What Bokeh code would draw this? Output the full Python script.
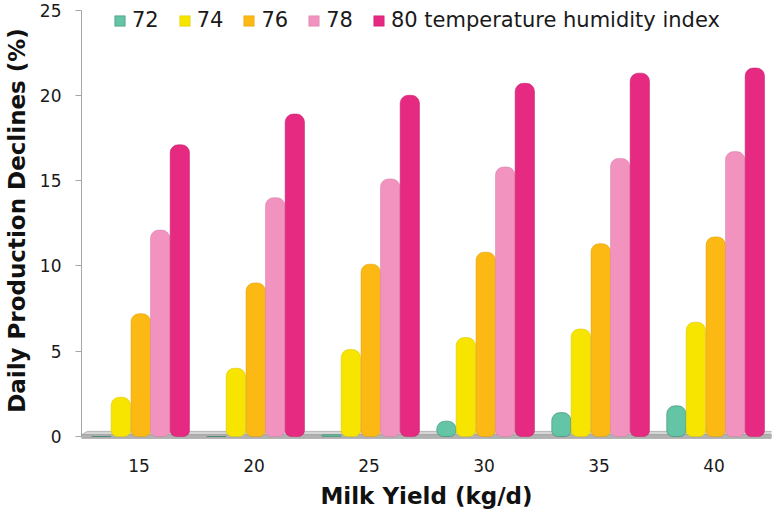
from bokeh.plotting import figure
from bokeh.models import FactorRange, Range1d, Legend, LegendItem, FixedTicker, ColumnDataSource
from bokeh.transform import dodge
from bokeh.embed import file_html
from bokeh.resources import INLINE

# ---- data ----
milk_yield = ["15", "20", "25", "30", "35", "40"]
thi_72 = [0.0, 0.0, 0.1, 0.9, 1.4, 1.8]
thi_74 = [2.3, 4.0, 5.1, 5.8, 6.3, 6.7]
thi_76 = [7.2, 9.0, 10.1, 10.8, 11.3, 11.7]
thi_78 = [12.1, 14.0, 15.1, 15.8, 16.3, 16.7]
thi_80 = [17.1, 18.9, 20.0, 20.7, 21.3, 21.6]
series_labels = ["72", "74", "76", "78", "80 temperature humidity index"]
y_ticks = [0, 5, 10, 15, 20, 25]

fills = ["#63C4A6", "#F7E500", "#FDB913", "#F293BF", "#E62A82"]
edges = ["#2E7D65", "#D6C400", "#E09A00", "#D87CA8", "#C21C68"]
offsets = [-0.327, -0.158, 0.015, 0.184, 0.355]
bar_w = 0.168

src = ColumnDataSource(dict(x=milk_yield, s72=thi_72, s74=thi_74, s76=thi_76,
                            s78=thi_78, s80=thi_80))
fields = ["s72", "s74", "s76", "s78", "s80"]

FONT = "DejaVu Sans"

p = figure(x_range=FactorRange(factors=milk_yield, range_padding=0),
           y_range=Range1d(-0.234, 25.557),
           width=783, height=514,
           min_border_left=76, min_border_right=12, min_border_top=0, min_border_bottom=74,
           output_backend="svg", toolbar_location=None)
p.outline_line_color = None
p.xgrid.visible = False
p.ygrid.visible = False
p.background_fill_color = "white"
p.border_fill_color = "white"

# floor (decoration)
p.patch(x=[0.0, 0.05, 6.1, 6.0], y=[0.1, 0.3, 0.3, 0.1],
        fill_color="#D6D6D6", line_color="#B5B5B5", line_width=1)
p.patch(x=[0.0, 6.0, 6.0, 0.0], y=[0.1, 0.1, -0.1, -0.1],
        fill_color="#B4B4B4", line_color="#A0A0A0", line_width=1)

renderers = []
for f, off, fc, ec in zip(fields, offsets, fills, edges):
    r = p.vbar(x=dodge("x", off, range=p.x_range), top=f, bottom=0, width=bar_w,
               source=src, fill_color=fc, line_color=ec, line_width=1, line_alpha=0.5,
               border_radius=[8, 8, 6, 6])
    renderers.append(r)

legend = Legend(items=[LegendItem(label=lab, renderers=[r]) for lab, r in zip(series_labels, renderers)],
                orientation="horizontal", location=(32, 408),
                label_text_font=FONT, label_text_font_size="21px", label_text_color="#1a1a1a",
                glyph_width=13, glyph_height=13, label_standoff=6, spacing=19,
                padding=0, margin=0, border_line_alpha=0, background_fill_alpha=0)
p.add_layout(legend)

# y axis
p.yaxis.ticker = FixedTicker(ticks=y_ticks)
p.yaxis.bounds = (0, 25)
p.yaxis.axis_line_color = "#A6A6A6"
p.yaxis.major_tick_line_color = "#A6A6A6"
p.yaxis.major_tick_out = 6
p.yaxis.major_tick_in = 0
p.yaxis.minor_tick_line_color = None
p.yaxis.major_label_standoff = 14
p.yaxis.major_label_text_font = FONT
p.yaxis.major_label_text_font_size = "17px"
p.yaxis.major_label_text_color = "#1a1a1a"
p.yaxis.axis_label = "Daily Production Declines (%)"
p.yaxis.axis_label_text_font = FONT
p.yaxis.axis_label_text_font_style = "bold"
p.yaxis.axis_label_text_font_size = "23px"
p.yaxis.axis_label_text_color = "#111111"
p.yaxis.axis_label_standoff = 7

# x axis
p.xaxis.axis_line_color = None
p.xaxis.major_tick_line_color = None
p.xaxis.minor_tick_line_color = None
p.xaxis.major_label_standoff = 12
p.xaxis.major_label_text_font = FONT
p.xaxis.major_label_text_font_size = "17px"
p.xaxis.major_label_text_color = "#1a1a1a"
p.xaxis.axis_label = "Milk Yield (kg/d)"
p.xaxis.axis_label_text_font = FONT
p.xaxis.axis_label_text_font_style = "bold"
p.xaxis.axis_label_text_font_size = "23px"
p.xaxis.axis_label_text_color = "#111111"
p.xaxis.axis_label_standoff = 8

open("out.html", "w").write(file_html(p, INLINE))
